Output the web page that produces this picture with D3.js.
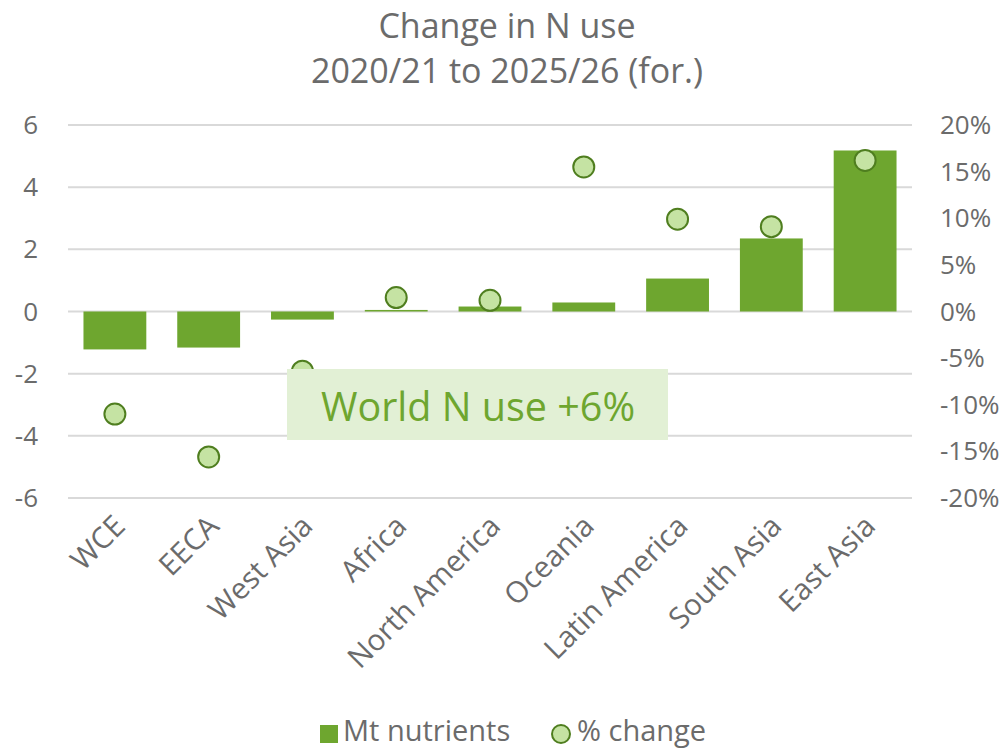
<!DOCTYPE html>
<html><head><meta charset="utf-8">
<script src="https://cdn.jsdelivr.net/npm/d3@7"></script>
<style>body{margin:0;background:#fff;}text{font-family:"Open Sans","DejaVu Sans",sans-serif;}</style>
</head><body>
<svg id="c" width="1006" height="750"></svg>
<script>
const categories = ["WCE","EECA","West Asia","Africa","North America","Oceania","Latin America","South Asia","East Asia"];
const mtNutrients = [-1.22,-1.16,-0.26,0.05,0.16,0.29,1.06,2.35,5.18];
const pctChange = [-11.0,-15.6,-6.4,1.5,1.2,15.5,9.9,9.1,16.2];
const leftTicks = [-6,-4,-2,0,2,4,6];
const rightTicks = [-20,-15,-10,-5,0,5,10,15,20];

const svg = d3.select("#c");
const L = 68, R = 912, T = 125, B = 498;
const x = d3.scaleBand().domain(categories).range([L,R]).paddingInner(0.33).paddingOuter(0.165);
const yL = d3.scaleLinear().domain([-6,6]).range([B,T]);
const yR = d3.scaleLinear().domain([-20,20]).range([B,T]);
const grey = "#6b6b6b";

svg.append("g").selectAll("line").data(leftTicks).join("line")
  .attr("x1",L).attr("x2",R).attr("y1",d=>yL(d)).attr("y2",d=>yL(d))
  .attr("stroke","#d9d9d9").attr("stroke-width",2);

svg.append("g").selectAll("text").data(leftTicks).join("text")
  .attr("x",38).attr("y",d=>yL(d)).attr("dy","0.35em").attr("text-anchor","end")
  .attr("font-size",26).attr("fill",grey).text(d=>d);

svg.append("g").selectAll("text").data(rightTicks).join("text")
  .attr("x",940).attr("y",d=>yR(d)).attr("dy","0.35em").attr("text-anchor","start")
  .attr("font-size",26).attr("fill",grey).text(d=>d+"%");

svg.append("g").selectAll("rect").data(categories).join("rect")
  .attr("x",d=>x(d)).attr("width",x.bandwidth())
  .attr("y",(d,i)=>Math.min(yL(0),yL(mtNutrients[i])))
  .attr("height",(d,i)=>Math.abs(yL(mtNutrients[i])-yL(0)))
  .attr("fill","#6ea62f");

svg.append("g").selectAll("circle").data(categories).join("circle")
  .attr("cx",d=>x(d)+x.bandwidth()/2).attr("cy",(d,i)=>yR(pctChange[i]))
  .attr("r",10.5).attr("fill","#c5e3a3").attr("stroke","#4f7e1f").attr("stroke-width",2);

// annotation
svg.append("rect").attr("x",287).attr("y",369).attr("width",381).attr("height",71).attr("fill","#e2f0d5");
svg.append("text").attr("x",478).attr("y",421).attr("text-anchor","middle")
  .attr("font-size",39.5).attr("fill","#6ea62f").text("World N use +6%");

// x labels
svg.append("g").selectAll("text").data(categories).join("text")
  .attr("transform",d=>`translate(${x(d)+x.bandwidth()/2+12},${528}) rotate(-45)`)
  .attr("text-anchor","end").attr("font-size",29.5).attr("fill",grey).text(d=>d);

// title
svg.append("text").attr("x",507).attr("y",38).attr("text-anchor","middle").attr("font-size",34).attr("fill",grey).text("Change in N use");
svg.append("text").attr("x",507).attr("y",83).attr("text-anchor","middle").attr("font-size",34).attr("fill",grey).text("2020/21 to 2025/26 (for.)");

// legend
svg.append("rect").attr("x",320).attr("y",725).attr("width",18).attr("height",18).attr("fill","#6ea62f");
svg.append("text").attr("x",343).attr("y",741).attr("font-size",29).attr("fill",grey).text("Mt nutrients");
svg.append("circle").attr("cx",561).attr("cy",734).attr("r",9).attr("fill","#c5e3a3").attr("stroke","#4f7e1f").attr("stroke-width",2);
svg.append("text").attr("x",577).attr("y",741).attr("font-size",29).attr("fill",grey).text("% change");
</script>
</body></html>
